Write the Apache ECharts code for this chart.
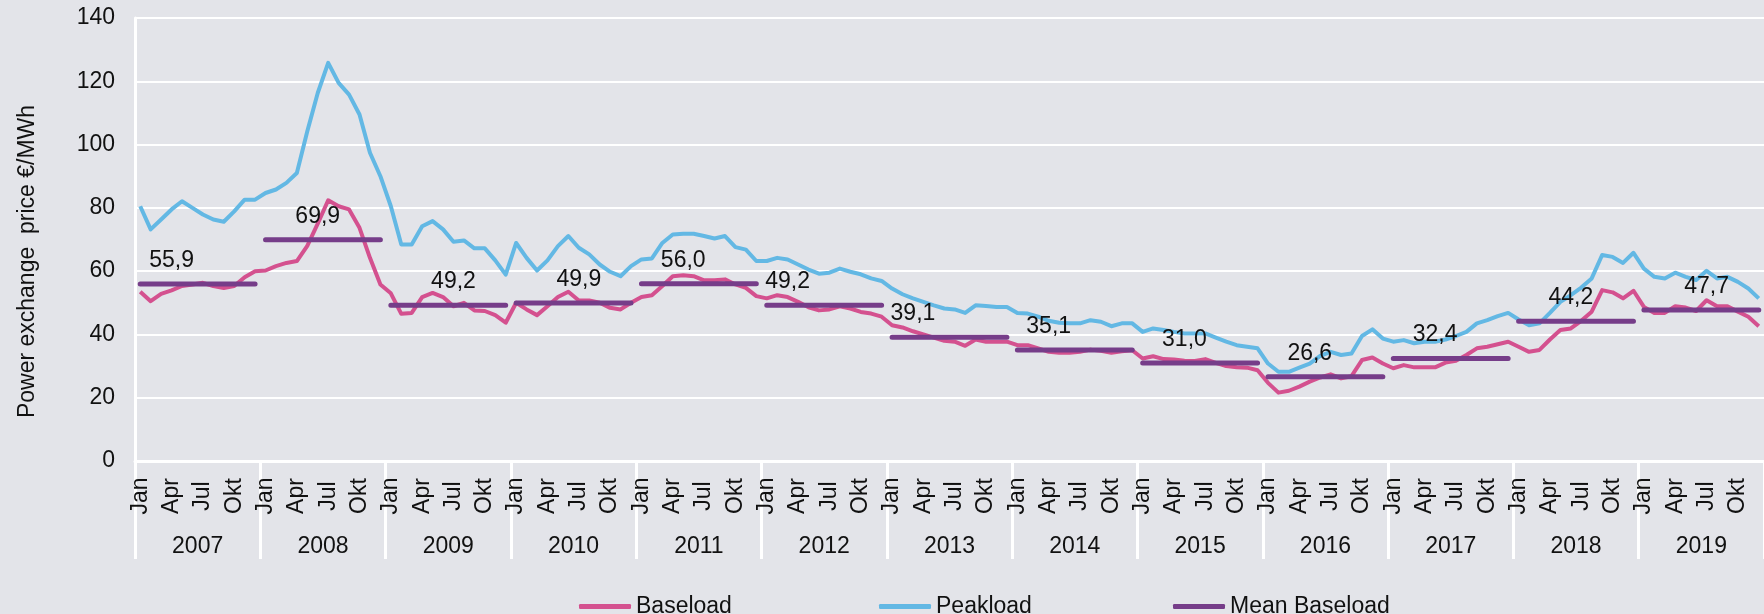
<!DOCTYPE html>
<html>
<head>
<meta charset="utf-8">
<title>Power exchange price</title>
<script src="https://cdn.jsdelivr.net/npm/echarts@6/dist/echarts.min.js"></script>
<style>
  html, body { margin: 0; padding: 0; background: #e3e4e9; }
  #chart { width: 1764px; height: 614px; }
</style>
</head>
<body>
<div id="chart"></div>
<script>
// monthly power exchange prices in €/MWh, Jan 2007 - Dec 2019
const years = ['2007', '2008', '2009', '2010', '2011', '2012', '2013',
  '2014', '2015', '2016', '2017', '2018', '2019'];
const monthNames = ['Jan', 'Feb', 'Mär', 'Apr', 'Mai', 'Jun',
  'Jul', 'Aug', 'Sep', 'Okt', 'Nov', 'Dez'];

const baseload = [
  53.5, 50.5, 52.8, 53.9, 55.3, 55.8, 56.3, 55.3, 54.7, 55.3, 58.1, 60.0, // 2007
  60.2, 61.6, 62.6, 63.2, 68.0, 75.0, 82.4, 80.5, 79.5, 73.7, 64.2, 55.8, // 2008
  53.0, 46.5, 46.8, 51.8, 53.1, 51.8, 48.9, 50.0, 47.6, 47.4, 46.1, 43.7, // 2009
  50.0, 47.9, 46.1, 48.9, 51.8, 53.5, 50.7, 50.7, 50.0, 48.4, 47.9, 50.0, // 2010
  51.8, 52.4, 55.3, 58.4, 58.7, 58.4, 57.1, 57.1, 57.4, 55.8, 54.7, 52.1, // 2011
  51.4, 52.4, 51.8, 50.3, 48.6, 47.6, 47.9, 48.9, 48.2, 47.1, 46.6, 45.6, // 2012
  42.9, 42.2, 41.0, 40.0, 39.0, 38.0, 37.7, 36.4, 38.4, 37.7, 37.7, 37.7, // 2013
  36.6, 36.6, 35.6, 34.5, 34.2, 34.2, 34.5, 35.2, 34.8, 34.2, 34.7, 35.0, // 2014
  32.4, 33.1, 32.2, 32.1, 31.7, 31.6, 32.2, 31.0, 30.0, 29.6, 29.5, 28.7, // 2015
  24.7, 21.6, 22.2, 23.5, 25.1, 26.4, 27.4, 26.1, 26.8, 31.9, 32.7, 30.8, // 2016
  29.3, 30.3, 29.6, 29.6, 29.6, 31.1, 31.7, 33.5, 35.6, 36.1, 36.9, 37.7, // 2017
  36.1, 34.5, 35.1, 38.4, 41.4, 41.9, 44.3, 47.2, 54.0, 53.3, 51.4, 53.8, // 2018
  48.7, 46.8, 46.8, 48.9, 48.5, 47.4, 50.8, 48.9, 48.9, 47.2, 45.6, 42.6  // 2019
];

const peakload = [
  80.5, 73.2, 76.3, 79.5, 82.1, 80.0, 77.9, 76.3, 75.6, 78.9, 82.6, 82.6, // 2007
  84.7, 85.8, 87.9, 91.0, 104.2, 116.3, 125.8, 119.5, 115.8, 109.5, 97.4, 90.0, // 2008
  80.5, 68.4, 68.4, 74.2, 75.8, 73.2, 69.3, 69.7, 67.2, 67.2, 63.4, 58.9, // 2009
  68.9, 64.2, 60.2, 63.4, 67.9, 71.1, 67.4, 65.3, 62.1, 59.8, 58.4, 61.6, // 2010
  63.7, 64.0, 68.9, 71.6, 71.8, 71.8, 71.1, 70.3, 71.1, 67.6, 66.8, 63.2, // 2011
  63.2, 64.2, 63.7, 62.1, 60.5, 59.2, 59.5, 60.8, 59.8, 59.0, 57.7, 56.9, // 2012
  54.5, 52.7, 51.4, 50.3, 49.2, 48.2, 47.9, 46.8, 49.2, 49.0, 48.7, 48.7, // 2013
  46.8, 46.6, 45.6, 44.3, 43.7, 43.5, 43.5, 44.5, 44.0, 42.6, 43.5, 43.5, // 2014
  40.8, 41.9, 41.4, 40.8, 40.3, 40.3, 40.3, 39.0, 37.7, 36.6, 36.1, 35.6, // 2015
  30.8, 28.2, 28.2, 29.5, 30.8, 33.2, 34.5, 33.5, 34.0, 39.5, 41.6, 38.7, // 2016
  37.7, 38.2, 37.2, 37.7, 37.7, 38.4, 39.5, 40.8, 43.5, 44.5, 45.8, 46.8, // 2017
  44.7, 42.9, 43.5, 46.8, 50.3, 52.4, 54.8, 57.7, 65.1, 64.5, 62.6, 65.8, // 2018
  60.8, 58.2, 57.7, 59.5, 58.2, 57.2, 60.1, 57.7, 58.2, 56.6, 54.5, 51.4  // 2019
];

const meanBaseload = [55.9, 69.9, 49.2, 49.9, 56.0, 49.2, 39.1,
  35.1, 31.0, 26.6, 32.4, 44.2, 47.7];

// month (0-11) inside each year where the mean value label sits
const meanLabelMonth = [3, 5, 6, 6, 4, 2, 2, 3, 4, 4, 4, 5, 6];

const colors = {
  base: '#d4518f',
  peak: '#63b8e4',
  mean: '#763d89'
};
const fontFamily = "'Liberation Sans', Arial, sans-serif";
const fontSize = 23;

const months = [];
years.forEach(y => monthNames.forEach(m => months.push(m + ' ' + y)));

// one short line per year for the annual mean
const meanSeries = years.map((y, j) => ({
  name: 'Mean Baseload',
  type: 'line',
  z: 4,
  symbol: 'circle',
  symbolSize: 0.1,
  showSymbol: true,
  lineStyle: { color: colors.mean, width: 5, cap: 'round' },
  itemStyle: { color: colors.mean },
  data: months.map((m, i) => {
    if (Math.floor(i / 12) !== j) return null;
    if (i % 12 === meanLabelMonth[j]) {
      return {
        value: meanBaseload[j],
        label: {
          show: true,
          position: 'top',
          distance: 12,
          formatter: meanBaseload[j].toFixed(1).replace('.', ','),
          fontSize: fontSize,
          fontFamily: fontFamily,
          color: '#111'
        }
      };
    }
    return meanBaseload[j];
  })
}));

const legendBase = {
  top: 590,
  icon: 'roundRect',
  itemWidth: 52,
  itemHeight: 5,
  textStyle: { fontSize: fontSize, fontFamily: fontFamily, color: '#111' }
};

const chart = echarts.init(document.getElementById('chart'));
chart.setOption({
  backgroundColor: '#e3e4e9',
  animation: false,
  grid: { left: 135, right: -3, top: 18, bottom: 153 },
  legend: [
    Object.assign({ left: 574, data: ['Baseload'] }, legendBase),
    Object.assign({ left: 874, data: ['Peakload'] }, legendBase),
    Object.assign({ left: 1168, data: ['Mean Baseload'] }, legendBase)
  ],
  xAxis: [
    {
      type: 'category',
      data: months,
      axisLine: { lineStyle: { color: '#ffffff', width: 3 } },
      axisTick: { show: false },
      axisLabel: {
        interval: 2,
        rotate: 90,
        margin: 35,
        align: 'center',
        verticalAlign: 'middle',
        fontSize: fontSize,
        fontFamily: fontFamily,
        color: '#111',
        formatter: v => v.split(' ')[0]
      }
    },
    {
      type: 'category',
      data: years,
      position: 'bottom',
      axisLine: { show: false },
      axisTick: {
        show: true,
        length: 98,
        lineStyle: { color: '#ffffff', width: 3 }
      },
      axisLabel: {
        margin: 74,
        fontSize: fontSize,
        fontFamily: fontFamily,
        color: '#111'
      }
    }
  ],
  yAxis: {
    type: 'value',
    min: 0,
    max: 140,
    interval: 20,
    name: 'Power exchange  price €/MWh',
    nameLocation: 'middle',
    nameGap: 96,
    nameTextStyle: {
      fontSize: fontSize,
      fontFamily: fontFamily,
      color: '#111',
      padding: [0, 44, 0, 0]
    },
    axisLine: { show: true, lineStyle: { color: '#ffffff', width: 3 } },
    axisTick: { show: false },
    splitLine: { lineStyle: { color: '#ffffff', width: 2 } },
    axisLabel: {
      margin: 20,
      fontSize: fontSize,
      fontFamily: fontFamily,
      color: '#111'
    }
  },
  series: [
    {
      name: 'Peakload',
      type: 'line',
      z: 2,
      showSymbol: false,
      symbol: 'none',
      lineStyle: { color: colors.peak, width: 4, join: 'round' },
      itemStyle: { color: colors.peak },
      data: peakload
    },
    {
      name: 'Baseload',
      type: 'line',
      z: 3,
      showSymbol: false,
      symbol: 'none',
      lineStyle: { color: colors.base, width: 4, join: 'round' },
      itemStyle: { color: colors.base },
      data: baseload
    }
  ].concat(meanSeries)
});
</script>
</body>
</html>
